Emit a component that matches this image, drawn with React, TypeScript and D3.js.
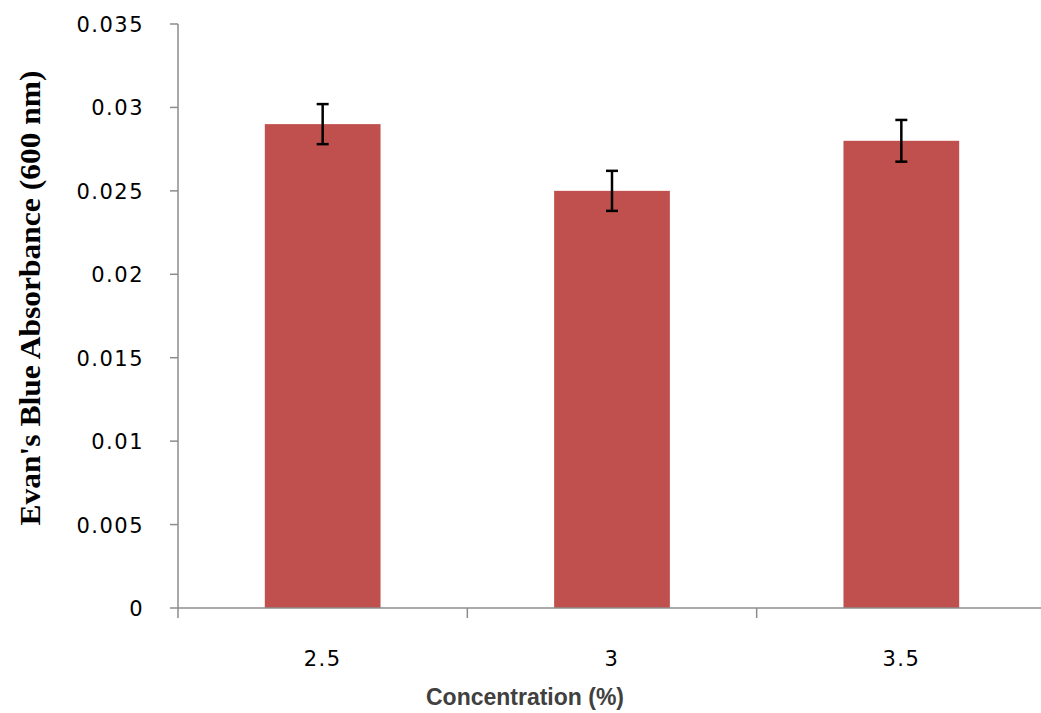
import React from "react";
import * as d3 from "d3";

const categories = ["2.5", "3", "3.5"];
const values = [0.029, 0.025, 0.028];
const errors = [0.0012, 0.0012, 0.00125];
const yTicks = [0, 0.005, 0.01, 0.015, 0.02, 0.025, 0.03, 0.035];

export default function App() {
  const W = 1041, H = 713;
  const left = 178, right = 1046, top = 24, bottom = 608;
  const x = d3.scaleBand().domain(categories).range([left, right]).paddingInner(0).paddingOuter(0);
  const y = d3.scaleLinear().domain([0, 0.035]).range([bottom, top]);
  const bw = x.bandwidth() * 0.4;
  const axisColor = "#8c8c8c";
  const bounds = [left, ...categories.map((c) => (x(c) as number) + x.bandwidth())];
  const tickFont = { fontFamily: "DejaVu Sans", fontSize: 21, letterSpacing: "1.5px", fill: "#000" } as const;
  return (
    <svg width={W} height={H} style={{ position: "absolute", left: 0, top: 0 }}>
      <rect width={W} height={H} fill="#fff" />
      {categories.map((c, i) => {
        const cx = (x(c) as number) + x.bandwidth() / 2;
        const y1 = y(values[i] + errors[i]);
        const y2 = y(values[i] - errors[i]);
        return (
          <g key={c}>
            <rect x={cx - bw / 2} y={y(values[i])} width={bw} height={bottom - y(values[i])} fill="#c0504d" />
            <line x1={cx} x2={cx} y1={y1} y2={y2} stroke="#000" strokeWidth={2.5} />
            <line x1={cx - 6} x2={cx + 6} y1={y1} y2={y1} stroke="#000" strokeWidth={2.5} />
            <line x1={cx - 6} x2={cx + 6} y1={y2} y2={y2} stroke="#000" strokeWidth={2.5} />
            <text x={cx} y={666} textAnchor="middle" {...tickFont}>{c}</text>
          </g>
        );
      })}
      <line x1={left} x2={left} y1={top} y2={bottom} stroke={axisColor} strokeWidth={1.5} />
      <line x1={left} x2={right} y1={bottom} y2={bottom} stroke={axisColor} strokeWidth={1.5} />
      {yTicks.map((t) => (
        <g key={t}>
          <line x1={left - 8} x2={left} y1={y(t)} y2={y(t)} stroke={axisColor} strokeWidth={1.5} />
          <text x={left - 34} y={y(t) + 8} textAnchor="end" {...tickFont}>{String(t)}</text>
        </g>
      ))}
      {bounds.map((b, i) => (
        <line key={i} x1={b} x2={b} y1={bottom} y2={bottom + 10} stroke={axisColor} strokeWidth={1.5} />
      ))}
      <text x={525} y={705} textAnchor="middle" fontFamily="Liberation Sans" fontWeight="bold" fontSize={23} fill="#404040">Concentration (%)</text>
      <text transform={`translate(40, 298) rotate(-90)`} textAnchor="middle" fontFamily="Liberation Serif" fontWeight="bold" fontSize={30} fill="#000" textLength={455} lengthAdjust="spacingAndGlyphs">Evan's Blue Absorbance  (600 nm)</text>
    </svg>
  );
}
